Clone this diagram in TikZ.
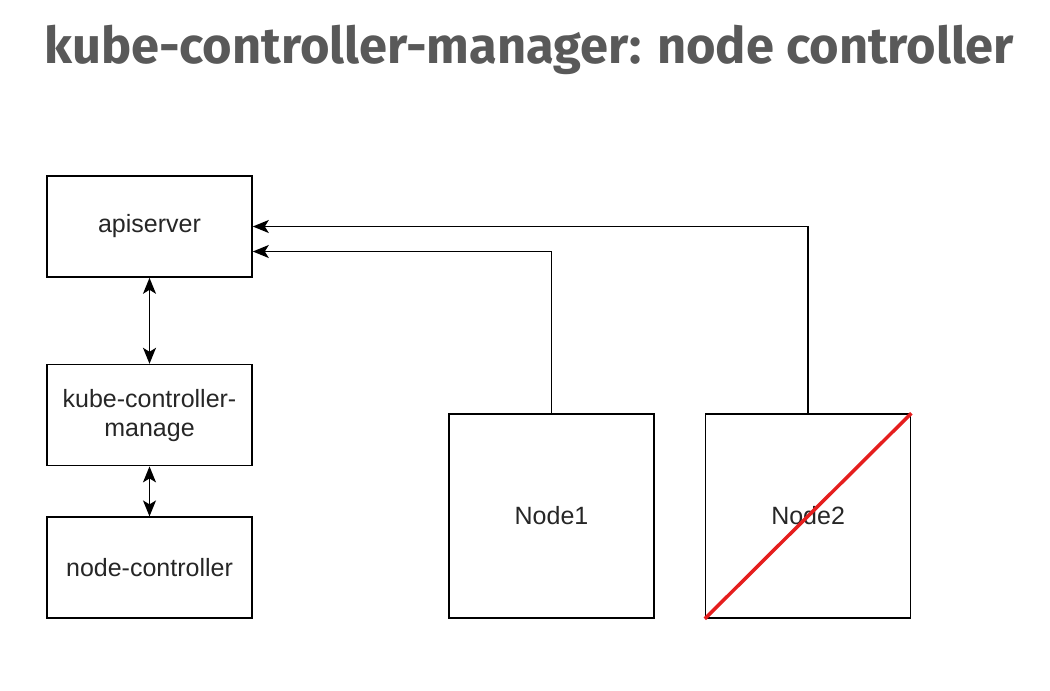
\documentclass[tikz,border=0pt]{standalone}
\usepackage{fontspec}
\setmainfont{Liberation Sans}
\newfontfamily\titlefont{Fira Sans}
\usetikzlibrary{positioning, arrows.meta}
\definecolor{titlegray}{HTML}{595959}
\definecolor{crossred}{HTML}{E51E1E}
\tikzset{
  box/.style={
    draw, line width=1.6pt, text=black!85, align=center,
    minimum width=205pt, minimum height=101pt, inner sep=0pt,
    font=\fontsize{25}{29}\selectfont
  },
  hostbox/.style={box, minimum height=204pt},
  link/.style={line width=1.5pt, -{Stealth[length=16pt,width=13pt,inset=4pt]}},
  biglink/.style={line width=1.5pt, {Stealth[length=16pt,width=13pt,inset=4pt]}-{Stealth[length=16pt,width=13pt,inset=4pt]}},
  node distance=86pt
}
\begin{document}
\begin{tikzpicture}[x=1pt, y=-1pt]
      \useasboundingbox (0,0) rectangle (1050,691);
      \node[anchor=base west, text=titlegray, font=\titlefont\bfseries\fontsize{50.6}{55}\selectfont] (title) at (41,63) {kube-controller-manager: node controller};

      \node[box] (api) at (149.5,226.5) {apiserver};
      \node[box, below = of api] (kcm) {kube-controller-\\manage};
      \node[box, below = 50pt of kcm] (nc) {node-controller};
      \node[hostbox] (n1) at (551.5,516) {Node1};
      \node[hostbox, right = 50pt of n1] (n2) {Node2};

      % node2 is down
      \draw[crossred, line width=3.5pt] (n2.south west) -- (n2.north east);

      \draw[biglink] (api) -- (kcm);
      \draw[biglink] (kcm) -- (nc);
      \draw[link] (n1.north) |- ([yshift=-25pt]api.east);
      \draw[link] (n2.north) |- (api.east);
    \end{tikzpicture}
\end{document}
